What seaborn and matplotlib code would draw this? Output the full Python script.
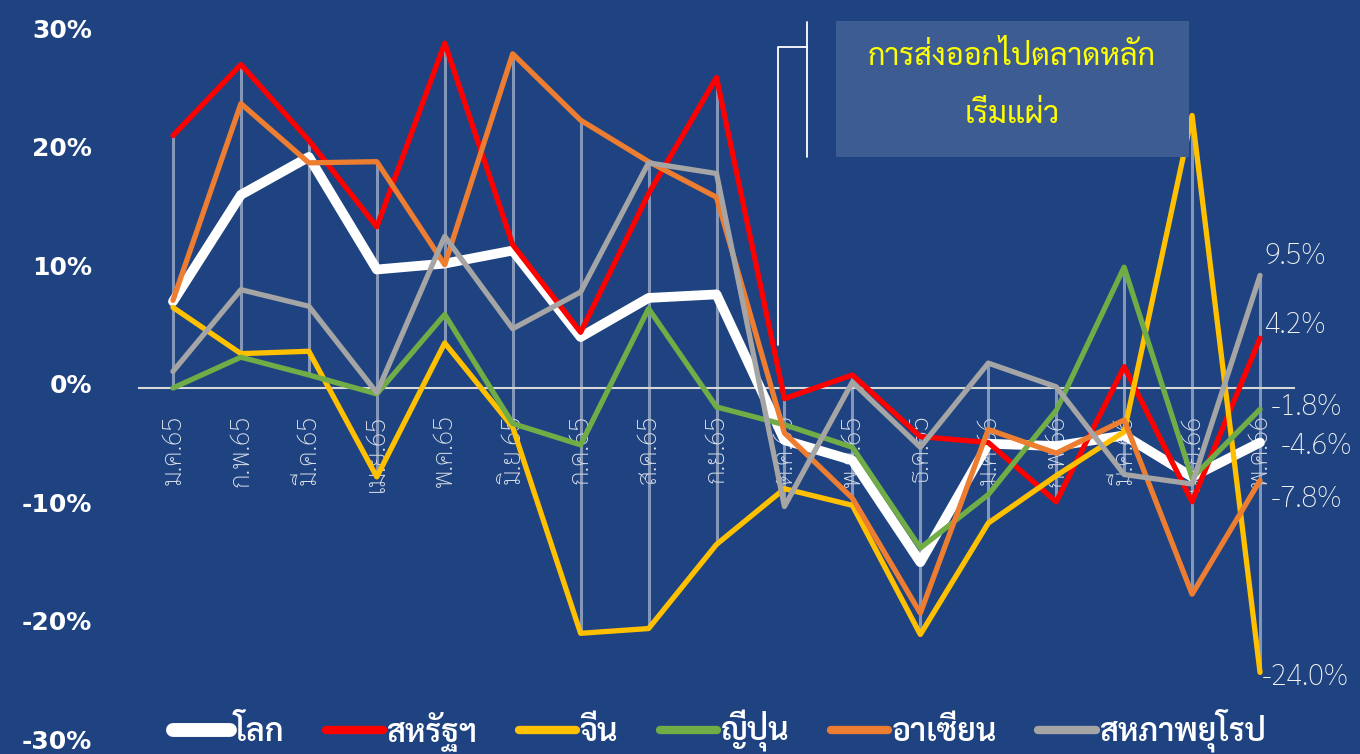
import matplotlib
matplotlib.use("Agg")

import numpy as np
import pandas as pd
import matplotlib.pyplot as plt
import matplotlib.transforms as mtransforms
from matplotlib.lines import Line2D
from matplotlib.patches import Rectangle
import seaborn as sns

# ข้อมูลอัตราการขยายตัวของการส่งออก (%YoY) แยกตามตลาด
months = ["ม.ค.65", "ก.พ.65", "มี.ค.65", "เม.ย.65", "พ.ค.65", "มิ.ย.65", "ก.ค.65", "ส.ค.65",
          "ก.ย.65", "ต.ค.65", "พ.ย.65", "ธ.ค.65", "ม.ค.66", "ก.พ.66", "มี.ค.66", "เม.ย.66", "พ.ค.66"]

series_names = ["โลก", "สหรัฐฯ", "จีน", "ญี่ปุ่น", "อาเซียน", "สหภาพยุโรป"]

world = [7.3, 16.3, 19.5, 10.0, 10.5, 11.6, 4.3, 7.6, 7.9, -4.4, -6.1, -14.7, -4.7, -4.9, -4.0, -7.5, -4.6]
usa = [21.3, 27.3, 20.9, 13.6, 29.1, 12.1, 4.7, 16.4, 26.2, -0.9, 1.1, -4.1, -4.6, -9.6, 1.8, -9.6, 4.2]
china = [6.8, 2.9, 3.1, -7.5, 3.8, -3.3, -20.7, -20.3, -13.2, -8.5, -9.9, -20.8, -11.4, -7.4, -3.7, 23.0, -24.0]
japan = [0.0, 2.6, 1.1, -0.5, 6.2, -3.0, -4.8, 6.7, -1.6, -3.1, -5.0, -13.5, -9.0, -1.9, 10.2, -7.6, -1.8]
asean = [7.4, 24.0, 19.0, 19.1, 10.4, 28.2, 22.6, 19.1, 16.1, -3.8, -9.3, -19.0, -3.5, -5.5, -2.7, -17.4, -7.8]
eu = [1.4, 8.3, 6.9, -0.4, 12.8, 5.0, 8.1, 19.0, 18.1, -10.0, 0.5, -5.0, 2.1, 0.1, -7.3, -8.1, 9.5]

yticks = [-30, -20, -10, 0, 10, 20, 30]
callout_text = "การส่งออกไปตลาดหลัก\nเริ่มแผ่ว"

# สไตล์
BG = "#1F4380"
colors = ["#FFFFFF", "#FF0000", "#FFC000", "#70AD47", "#ED7D31", "#A5A5A5"]
widths = [7.0, 3.8, 3.8, 3.8, 3.8, 3.8]
# ตำแหน่งป้ายค่าเดือนล่าสุด (offset points) เรียงตาม series_names
end_offsets = [(15, -3), (3, 9), (1, -4), (8, 1), (8, -14), (3, 14)]

sns.set_theme(style="white")
plt.rcParams["font.family"] = ["Sarabun", "DejaVu Sans"]

df = pd.DataFrame({"month_idx": np.arange(len(months))})
for name, vals in zip(series_names, [world, usa, china, japan, asean, eu]):
    df[name] = vals
long_df = df.melt(id_vars="month_idx", var_name="market", value_name="growth")

fig = plt.figure(figsize=(13.6, 7.54), dpi=100)
fig.patch.set_facecolor(BG)
ax = fig.add_axes([139 / 1360, 1 - 743.5 / 754, (1294 - 139) / 1360, (743.5 - 32.5) / 754])
ax.set_facecolor(BG)

# เส้น high-low ของแต่ละเดือน
vals_mat = df[series_names].to_numpy()
ax.vlines(df["month_idx"], vals_mat.min(axis=1), vals_mat.max(axis=1),
          color="#C9D0DE", alpha=0.6, lw=2.2, zorder=1)

for i, name in enumerate(series_names):
    sub = long_df[long_df["market"] == name]
    sns.lineplot(data=sub, x="month_idx", y="growth", ax=ax, color=colors[i], lw=widths[i],
                 sort=False, legend=False, zorder=3 + i,
                 solid_capstyle="round", solid_joinstyle="round")

# แกน x วางที่ศูนย์ (ต้องตั้งก่อนกำหนด tick label)
for s in ["top", "right", "left"]:
    ax.spines[s].set_visible(False)
ax.spines["bottom"].set_position(("data", 0))
ax.spines["bottom"].set_color("#D9D9D9")
ax.spines["bottom"].set_linewidth(1.5)
ax.spines["bottom"].set_zorder(2)

ax.set_xlim(-0.5, len(months) - 0.5)
ax.set_ylim(-30, 30)
ax.set_yticks(yticks)
ax.set_yticklabels([f"{t}%" for t in yticks], fontfamily="DejaVu Sans", fontweight="bold",
                   fontsize=18, color="white")
ax.set_xticks(df["month_idx"])
ax.set_xticklabels(months, rotation=90, fontsize=19, color="#DCE1EA", fontweight="light")
ax.tick_params(axis="x", length=0, pad=19)
ax.tick_params(axis="y", length=0, pad=34)
ax.set_xlabel("")
ax.set_ylabel("")

# ขยับป้ายแกน y ขึ้นเล็กน้อยให้ -30% ไม่ตกขอบ
shift_up = mtransforms.ScaledTranslation(0, 3 / 72, fig.dpi_scale_trans)
for lbl in ax.get_yticklabels():
    lbl.set_transform(lbl.get_transform() + shift_up)

# ป้ายค่าล่าสุด
last = len(months) - 1
for i, name in enumerate(series_names):
    v = df[name].iloc[-1]
    ax.annotate(f"{v:.1f}%", xy=(last, v), xytext=end_offsets[i],
                textcoords="offset points", ha="left", va="center", fontsize=21,
                fontweight="light", color="#F2F2F2", annotation_clip=False)

# กล่องข้อความ
fig.patches.append(Rectangle((836 / 1360, 1 - 157 / 754), 353 / 1360, 136 / 754,
                             transform=fig.transFigure, facecolor="#3D5C91", edgecolor="none",
                             zorder=10))
fig.text(1012 / 1360, 1 - 86 / 754, callout_text, ha="center", va="center", fontsize=22,
         color="#FFFF00", linespacing=2.15, zorder=11)
fig.lines.append(Line2D([778 / 1360, 778 / 1360, 807 / 1360], [1 - 345 / 754, 1 - 47 / 754, 1 - 47 / 754],
                        transform=fig.transFigure, color="white", lw=1.3, zorder=10))
fig.lines.append(Line2D([807 / 1360, 807 / 1360], [1 - 22 / 754, 1 - 157 / 754],
                        transform=fig.transFigure, color="white", lw=1.3, zorder=10))

# คำอธิบายสัญลักษณ์
handles = [Line2D([0], [0], color=c, lw=(10 if i == 0 else 6), solid_capstyle="round")
           for i, c in enumerate(colors)]
leg = fig.legend(handles, series_names, loc="center", bbox_to_anchor=(0.529, 0.031), ncol=6,
                 frameon=False, fontsize=23, handlelength=1.8, handletextpad=0.1,
                 columnspacing=1.3)
for t in leg.get_texts():
    t.set_color("white")
    t.set_fontweight("semibold")

fig.savefig("out.png", dpi=100, facecolor=BG)
